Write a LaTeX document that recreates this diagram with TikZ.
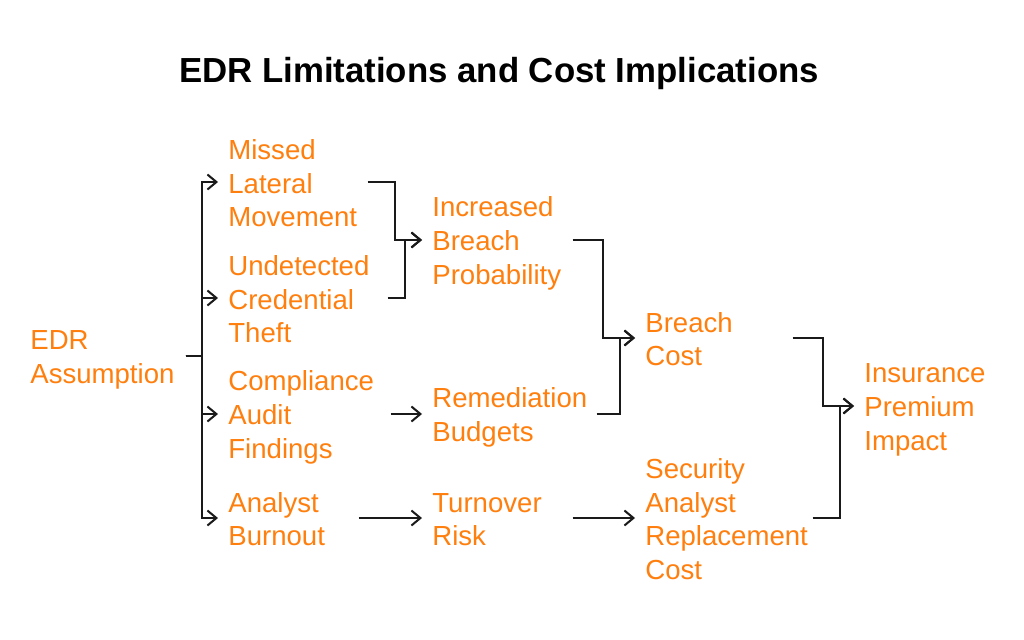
\documentclass[tikz,border=0pt]{standalone}
\usepackage{fontspec}
\setmainfont{Liberation Sans}
\usetikzlibrary{arrows.meta}

% same top and bottom for every label, whatever its letters
\newcommand{\lblstrut}{\rule[-0.15em]{0pt}{1.1em}}

\begin{document}
\begin{tikzpicture}[x=0.02cm, y=-0.02cm]

% ---------------------------------------------------------------- colours
\definecolor{c1}{HTML}{FF7F0E}   % the node labels
\definecolor{c2}{HTML}{1A1A1A}   % the connectors
\definecolor{titlecolor}{HTML}{000000}

% ================================================================
% Geometry in pixels of the 1024 x 639 frame (y grows downward).
%
%   five columns, text left edges at x = 30, 228, 432, 645, 864
%   row centres  182, 298, 414, 518 (second column)
%   each node is as wide as graphviz made it, so its east anchor
%   is where the outgoing connector starts
%   bends: one vertical rail per incoming edge, at the x below
% ================================================================

\tikzset{
    label/.style={
        text=c1, font=\fontsize{15.7}{19.3}\selectfont,
        align=left, inner sep=0pt, anchor=west,
        execute at begin node=\lblstrut, execute at end node=\lblstrut,
    },
    edge/.style={
        draw=c2, line width=1.15pt, shorten >=0.2cm,
        -{Straight Barb[length=1.8mm, width=3.0mm]},
    },
}

\useasboundingbox (0,0) rectangle (1024,639);

\node[font=\fontsize{19.8}{24}\selectfont\bfseries, text=titlecolor]
    (title) at (499,74) {EDR Limitations and Cost Implications};

% ---------------------------------------------------------------- nodes
\node[label, text width=3.10cm] (edr) at (30,356)  {EDR\\Assumption};

\node[label, text width=2.78cm] (mlm) at (228,182) {Missed\\Lateral\\Movement};
\node[label, text width=3.18cm] (uct) at (228,298) {Undetected\\Credential\\Theft};
\node[label, text width=3.24cm] (caf) at (228,414) {Compliance\\Audit\\Findings};
\node[label, text width=2.60cm] (abo) at (228,518) {Analyst\\Burnout};

\node[label, text width=2.80cm] (ibp) at (432,240) {Increased\\Breach\\Probability};
\node[label, text width=3.28cm] (rbu) at (432,414) {Remediation\\Budgets};
\node[label, text width=2.80cm] (tor) at (432,518) {Turnover\\Risk};

\node[label, text width=2.94cm] (bco) at (645,338) {Breach\\Cost};
\node[label, text width=3.34cm] (sar) at (645,518) {Security\\Analyst\\Replacement\\Cost};

\node[label, text width=2.60cm] (ipi) at (864,406) {Insurance\\Premium\\Impact};

% ---------------------------------------------------------------- rails
\coordinate (r0)  at (202,0);
\coordinate (r1a) at (395,0);
\coordinate (r1b) at (405,0);
\coordinate (r2a) at (603,0);
\coordinate (r2b) at (620,0);
\coordinate (r3a) at (823,0);
\coordinate (r3b) at (840,0);

% ---------------------------------------------------------------- edges
\foreach \t in {mlm, uct, caf, abo}
    \draw[edge] (edr.east) -- (edr.east -| r0) |- (\t.west);

\draw[edge] (mlm.east) -- (mlm.east -| r1a) |- (ibp.west);
\draw[edge] (uct.east) -- (uct.east -| r1b) |- (ibp.west);

\draw[edge] (ibp.east) -- (ibp.east -| r2a) |- (bco.west);
\draw[edge] (rbu.east) -- (rbu.east -| r2b) |- (bco.west);

\draw[edge] (bco.east) -- (bco.east -| r3a) |- (ipi.west);
\draw[edge] (sar.east) -- (sar.east -| r3b) |- (ipi.west);

\draw[edge] (caf.east) -- (rbu.west);
\draw[edge] (abo.east) -- (tor.west);
\draw[edge] (tor.east) -- (sar.west);

\end{tikzpicture}
\end{document}
